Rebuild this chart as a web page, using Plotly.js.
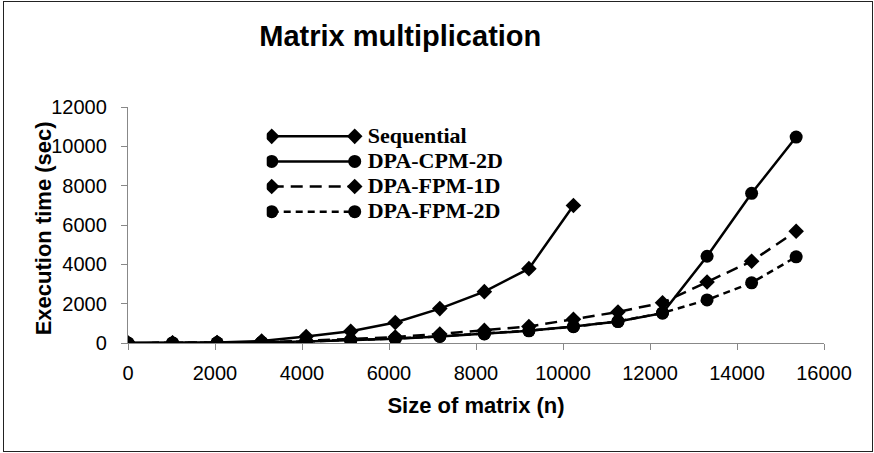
<!DOCTYPE html>
<html>
<head>
<meta charset="utf-8">
<script src="https://cdn.plot.ly/plotly-3.0.1.min.js"></script>
<style>
html,body{margin:0;padding:0;background:#fff;}
#wrap{position:relative;width:874px;height:453px;}
#chart{width:874px;height:453px;}
#frame{position:absolute;left:3px;top:1px;width:870px;height:451px;border:1.5px solid #222;box-sizing:border-box;pointer-events:none;}
</style>
</head>
<body>
<div id="wrap"><div id="chart"></div><div id="frame"></div></div>
<script>
// Matrix sizes (n)
var sizes = [0, 1024, 2048, 3072, 4096, 5120, 6144, 7168, 8192, 9216, 10240, 11264, 12288, 13312, 14336, 15360];
var sizesSeq = [0, 1024, 2048, 3072, 4096, 5120, 6144, 7168, 8192, 9216, 10240];
// Execution time (sec)
var sequential = [0, 5, 20, 100, 330, 600, 1040, 1750, 2610, 3780, 6990];
var dpaCpm2d   = [0, 2, 8, 30, 80, 140, 220, 330, 460, 620, 840, 1090, 1520, 4410, 7610, 10470];
var dpaFpm1d   = [0, 3, 10, 40, 110, 190, 300, 460, 640, 840, 1210, 1580, 2050, 3100, 4160, 5680];
var dpaFpm2d   = [0, 2, 8, 30, 80, 140, 230, 340, 470, 630, 830, 1100, 1530, 2190, 3060, 4380];
var names = ['Sequential', 'DPA-CPM-2D', 'DPA-FPM-1D', 'DPA-FPM-2D'];
var xTicks = [0, 2000, 4000, 6000, 8000, 10000, 12000, 14000, 16000];
var yTicks = [0, 2000, 4000, 6000, 8000, 10000, 12000];
var xTitle = 'Size of matrix (n)';
var yTitle = 'Execution time (sec)';

function legName(s) { return '<span style="font-size:22px"><b>' + s + '</b></span>'; }

var traces = [
  {x: sizesSeq, y: sequential, name: legName(names[0]),
   mode: 'lines+markers', line: {color: '#000', width: 2.5},
   marker: {symbol: 'diamond', size: 12, color: '#000'}},
  {x: sizes, y: dpaCpm2d, name: legName(names[1]),
   mode: 'lines+markers', line: {color: '#000', width: 2.5},
   marker: {symbol: 'circle', size: 13, color: '#000'}},
  {x: sizes, y: dpaFpm1d, name: legName(names[2]),
   mode: 'lines+markers', line: {color: '#000', width: 2.5, dash: '12px,7px'},
   marker: {symbol: 'diamond', size: 12, color: '#000'}},
  {x: sizes, y: dpaFpm2d, name: legName(names[3]),
   mode: 'lines+markers', line: {color: '#000', width: 2.5, dash: '7px,5px'},
   marker: {symbol: 'circle', size: 13, color: '#000'}}
];

var axisFont = 'Arial, Liberation Sans, sans-serif';
var layout = {
  width: 874, height: 453,
  margin: {l: 128, r: 50, t: 107, b: 109.5},
  paper_bgcolor: '#fff', plot_bgcolor: '#fff',
  title: {text: '<b>Matrix multiplication</b>', x: 0.458, xanchor: 'center', y: 0.92, yanchor: 'middle',
          font: {family: axisFont, size: 29, color: '#000'}},
  showlegend: true,
  legend: {x: 0.1993, y: 0.95, xanchor: 'left', yanchor: 'top', bgcolor: 'rgba(0,0,0,0)',
           font: {family: 'Times New Roman, Liberation Serif, serif', size: 17, color: '#000'},
           itemwidth: 91},
  xaxis: {range: [0, 16000], tickvals: xTicks, ticktext: xTicks.map(String),
          showgrid: false, zeroline: false, showline: true, linecolor: '#888', linewidth: 1.2,
          ticks: 'outside', ticklen: 6, tickcolor: '#888', ticklabelstandoff: 6,
          tickfont: {family: axisFont, size: 20, color: '#000'},
          title: {text: '<b>' + xTitle + '</b>', standoff: 14,
                  font: {family: axisFont, size: 22, color: '#000'}}},
  yaxis: {range: [0, 12000], tickvals: yTicks, ticktext: yTicks.map(String),
          showgrid: false, zeroline: false, showline: true, linecolor: '#888', linewidth: 1.2,
          ticks: 'outside', ticklen: 6, tickcolor: '#888', ticklabelstandoff: 10,
          tickfont: {family: axisFont, size: 20, color: '#000'}},
  annotations: [{text: '<b>' + yTitle + '</b>', xref: 'paper', yref: 'paper',
                 x: -0.1221, y: 0.486, xanchor: 'center', yanchor: 'middle', textangle: -90,
                 showarrow: false, font: {family: axisFont, size: 22, color: '#000'}}]
};

Plotly.newPlot('chart', traces, layout, {displayModeBar: false, staticPlot: true}).then(function (gd) {
  // Excel-style legend samples: longer line with a marker at both ends
  gd.querySelectorAll('.legend .traces').forEach(function (tr) {
    var line = tr.querySelector('.legendlines path');
    if (line) line.setAttribute('d', 'M5,0h83');
    var p = tr.querySelector('.legendpoints path.scatterpts');
    if (p) {
      p.setAttribute('transform', 'translate(5,0)');
      var c = p.cloneNode(true);
      c.setAttribute('transform', 'translate(88,0)');
      p.parentNode.appendChild(c);
    }
  });
});
</script>
</body>
</html>
